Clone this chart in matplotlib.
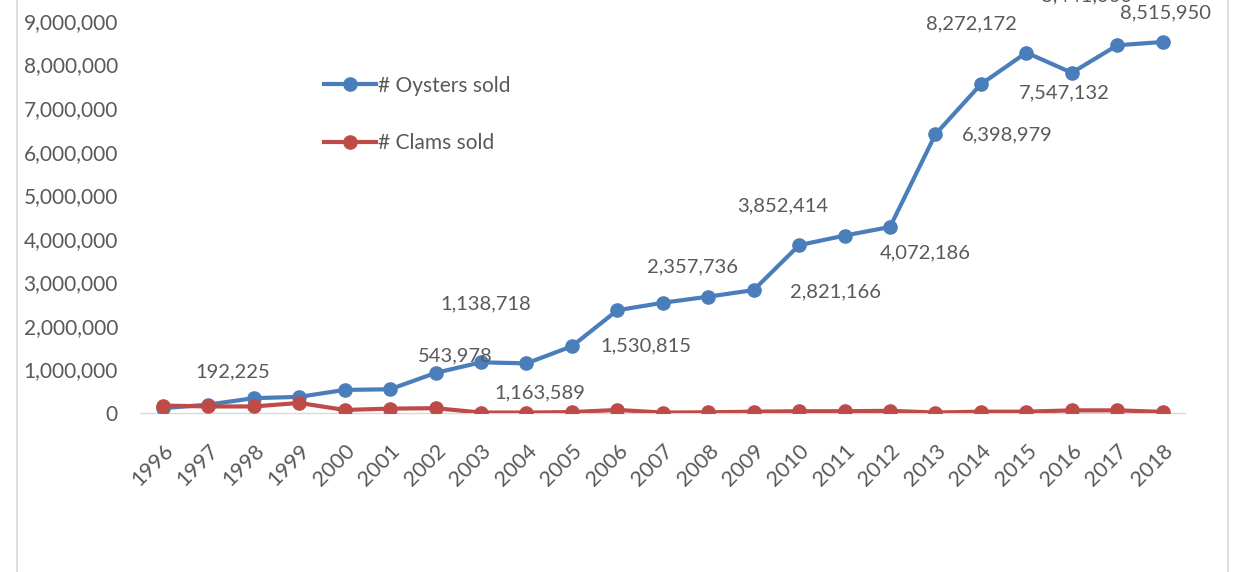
import matplotlib.pyplot as plt
from matplotlib.patches import Rectangle

years = [str(y) for y in range(1996, 2019)]

oysters_sold = [110000, 192225, 340000, 370000, 530000, 543978, 920000,
                1163589, 1138718, 1530815, 2357736, 2530000, 2670000,
                2821166, 3852414, 4072186, 4270000, 6398979, 7547132,
                8272172, 7810000, 8441000, 8515950]
clams_sold = [170000, 150000, 150000, 230000, 70000, 100000, 110000,
              10000, 10000, 20000, 70000, 10000, 15000, 30000, 40000,
              40000, 50000, 10000, 30000, 30000, 60000, 60000, 25000]

# which oyster points carry a data label
label_years = ["1997", "2001", "2003", "2004", "2005", "2006", "2009",
               "2010", "2011", "2013", "2014", "2015", "2017", "2018"]

# label offsets in pixels (dx, dy) from the point
label_offsets = {
    "1997": (24, 33), "2001": (65, 33), "2003": (59, -31), "2004": (-41, 60),
    "2005": (74, 0), "2006": (75, 43), "2009": (82, -2), "2010": (-16, 39),
    "2011": (81, -17), "2013": (72, -1), "2014": (83, -9), "2015": (-55, 29),
    "2017": (-31, 49), "2018": (3, 29),
}

blue = "#4A7EBB"
red = "#BE4B48"
text_col = "#595959"

plt.rcParams['font.family'] = ['Lato', 'DejaVu Sans']

fig = plt.figure(figsize=(12.4, 5.72), dpi=100)
ax = fig.add_axes([0.113, 0.278, 0.843, 0.722])

x = list(range(len(years)))
ax.plot(x, oysters_sold, color=blue, linewidth=3, marker="o", markersize=9.5,
        label="# Oysters sold", zorder=3)
ax.plot(x, clams_sold, color=red, linewidth=3, marker="o", markersize=9.5,
        label="# Clams sold", zorder=3)

for yr in label_years:
    i = years.index(yr)
    ax.annotate(f"{oysters_sold[i]:,}", (i, oysters_sold[i]),
                xytext=label_offsets[yr], textcoords="offset pixels",
                ha="center", va="center", fontsize=14.5, color=text_col,
                annotation_clip=False)

ax.set_xlim(-0.5, len(years) - 0.5)
ax.set_ylim(0, 9480000)
ax.set_yticks(range(0, 9000001, 1000000))
ax.set_yticklabels([f"{v:,}" for v in range(0, 9000001, 1000000)])
ax.set_xticks(x)
ax.set_xticklabels(years, rotation=45, ha="right", rotation_mode="anchor")
ax.tick_params(axis="both", length=0, labelsize=15, labelcolor=text_col)
ax.tick_params(axis="x", labelsize=15.5, pad=20)
ax.tick_params(axis="y", pad=16)

for s in ["top", "right", "left"]:
    ax.spines[s].set_visible(False)
ax.spines["bottom"].set_color("#D9D9D9")
ax.spines["bottom"].set_linewidth(1)

ax.legend(loc="upper left", bbox_to_anchor=(0.158, 0.862), frameon=False,
          fontsize=15, labelspacing=1.8, handlelength=2.5,
          handletextpad=0.1, labelcolor=text_col)

# chart area border
fig.patches.append(Rectangle((0.014, -0.01), 0.976, 1.05, transform=fig.transFigure,
                             fill=False, edgecolor="#D9D9D9", linewidth=1.2))

fig.savefig("out.png", dpi=100)
